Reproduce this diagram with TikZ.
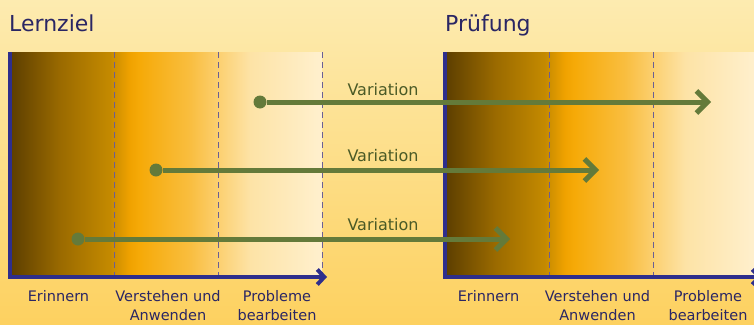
\documentclass[tikz,border=0pt]{standalone}
\usepackage{fontspec}
\setmainfont{DejaVu Sans}
\usepackage{tikz}
\usetikzlibrary{arrows.meta}
\definecolor{grund100}{HTML}{FDEBB0}
\definecolor{grund200}{HTML}{FDDE8A}
\definecolor{grund300}{HTML}{FDD160}
\definecolor{braun900}{HTML}{5C3E00}
\definecolor{braun600}{HTML}{9A6A00}
\definecolor{gold500}{HTML}{C48A00}
\definecolor{orange500}{HTML}{F0A200}
\definecolor{orange400}{HTML}{F6AA08}
\definecolor{orange300}{HTML}{F9BE40}
\definecolor{gelb200}{HTML}{FCD47C}
\definecolor{creme100}{HTML}{FDE3A6}
\definecolor{creme50}{HTML}{FFF0CE}
\definecolor{achsblau}{HTML}{2E2E8C}
\definecolor{titelblau}{HTML}{2A2664}
\definecolor{strichlila}{HTML}{6A5E96}
\definecolor{gruen500}{HTML}{647A3A}
\definecolor{gruen700}{HTML}{4A5A26}
\pgfdeclarehorizontalshading{stufenverlauf}{100bp}{color(0bp)=(braun900); color(25bp)=(braun900); color(33bp)=(braun600); color(41bp)=(gold500); color(44.2bp)=(orange500); color(45.8bp)=(orange400); color(53.9bp)=(orange300); color(59.5bp)=(gelb200); color(63.5bp)=(creme100); color(75bp)=(creme50); color(100bp)=(creme50)}
\tikzstyle{feld}=[shading=stufenverlauf]
\tikzstyle{trenner}=[draw=strichlila, line width=0.9pt, dash pattern=on 6pt off 4pt]
\tikzstyle{achse}=[draw=achsblau, line width=4pt, -{Straight Barb[length=7pt,width=15pt]}]
\tikzstyle{punkt}=[circle, fill=gruen500, inner sep=0pt, minimum size=13pt]
\tikzstyle{pfeil}=[draw=gruen500, line width=5pt, -{Straight Barb[length=11pt,width=22pt]}]
\tikzstyle{titel}=[anchor=base west, inner sep=0pt, text=titelblau, font=\fontsize{22}{26}\selectfont]
\tikzstyle{variante}=[anchor=base, inner sep=0pt, text=gruen700, font=\fontsize{16}{19}\selectfont]
\tikzstyle{stufe}=[anchor=north, inner sep=0pt, align=center, text=titelblau, font=\fontsize{14.5}{19.5}\selectfont]

\begin{document}
\begin{tikzpicture}[x=1pt, y=-1pt]
			\useasboundingbox (0,0) rectangle (754,324);
			\shade[top color=grund100, middle color=grund200, bottom color=grund300] (0,0) rectangle (754,324);
			% Stufen links und rechts
			\shade[feld] (10,52) rectangle (322,277);
			\shade[feld] (445,52) rectangle (757,277);
			\coordinate (lo1) at (114,52);  \coordinate (lu1) at (114,277);
			\coordinate (lo2) at (218,52);  \coordinate (lu2) at (218,277);
			\coordinate (lo3) at (322,52);  \coordinate (lu3) at (322,277);
			\coordinate (ro1) at (549,52);  \coordinate (ru1) at (549,277);
			\coordinate (ro2) at (653,52);  \coordinate (ru2) at (653,277);
			\coordinate (ro3) at (757,52);  \coordinate (ru3) at (757,277);
			\path[trenner] (lo1)--(lu1) (lo2)--(lu2) (lo3)--(lu3) (ro1)--(ru1) (ro2)--(ru2) (ro3)--(ru3);
			% Achsen
			\coordinate (lOben) at (10,52);  \coordinate (lNull) at (10,277);  \coordinate (lEnde) at (327,277);
			\coordinate (rOben) at (445,52); \coordinate (rNull) at (445,277); \coordinate (rEnde) at (762,277);
			\path[achse] (lOben)--(lNull)--(lEnde);
			\path[achse] (rOben)--(rNull)--(rEnde);
			% Variationen
			\node[punkt] (s1) at (260,102) {};
			\node[punkt] (s2) at (156,170) {};
			\node[punkt] (s3) at (78,239) {};
			\coordinate (e1) at (711,102);
			\coordinate (e2) at (599,170);
			\coordinate (e3) at (510,239);
			\path[pfeil] (s1)--(e1);
			\path[pfeil] (s2)--(e2);
			\path[pfeil] (s3)--(e3);
			\node[variante] (v1) at (383,95) {Variation};
			\node[variante] (v2) at (383,161) {Variation};
			\node[variante] (v3) at (383,230) {Variation};
			% Beschriftung
			\node[titel] (lernziel) at (9,31) {Lernziel};
			\node[titel] (pruefung) at (445,31) {Prüfung};
			\node[stufe] (lErinnern) at (58.5,290) {Erinnern};
			\node[stufe] (lVerstehen) at (168,290) {Verstehen und\\Anwenden};
			\node[stufe] (lProbleme) at (277,290) {Probleme\\bearbeiten};
			\node[stufe] (rErinnern) at (488.5,290) {Erinnern};
			\node[stufe] (rVerstehen) at (597.5,290) {Verstehen und\\Anwenden};
			\node[stufe] (rProbleme) at (708,290) {Probleme\\bearbeiten};
		\end{tikzpicture}
\end{document}
